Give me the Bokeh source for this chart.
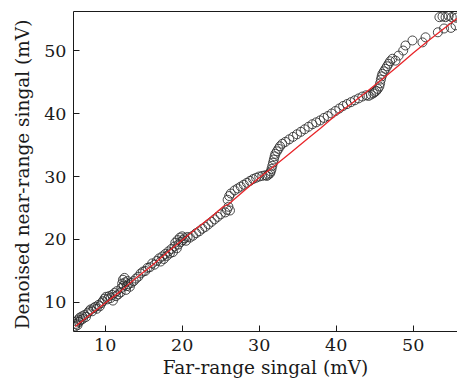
from bokeh.plotting import figure
from bokeh.models import FixedTicker, LinearAxis, Range1d
from bokeh.embed import file_html
from bokeh.resources import INLINE

# scatter: far-range signal (x) vs denoised near-range signal (y), mV
far_x = [6.1, 6.2, 6.3, 6.4, 6.5, 6.6, 6.7, 6.8, 7.0, 7.1, 7.3, 7.5, 7.7, 7.9, 8.1, 8.3, 8.5, 8.7,
         8.9, 9.1, 9.3, 9.5, 9.7, 9.9, 10.1, 10.3, 10.5, 10.7, 10.9, 11.0, 11.2, 11.4, 11.5, 11.7,
         12.0, 12.1, 12.2, 12.3, 12.4, 12.5, 12.6, 12.7, 12.8, 12.9, 13.0, 13.2, 13.4,
         13.7, 14.0, 14.3, 14.6, 14.9, 15.2, 15.5, 15.8, 16.1, 16.4, 16.7, 17.0,
         17.2, 17.4, 17.6, 17.8, 18.0, 18.2, 18.4, 18.6, 18.8, 19.0, 19.1, 19.3, 19.4, 19.5, 19.7,
         19.8, 20.0, 20.1, 20.3, 20.5, 20.7,
         21.0, 21.4, 21.8, 22.2, 22.6, 23.0, 23.4, 23.8, 24.2, 24.6, 25.0,
         25.6, 25.8, 26.0, 26.2, 25.9, 26.1, 26.3,
         26.8, 27.2, 27.6, 28.0, 28.4, 28.8, 29.2, 29.6, 30.0, 30.4, 30.8,
         31.0, 31.2, 31.4, 31.5, 31.6, 31.7, 31.8, 31.9, 32.0, 32.1, 32.3, 32.5, 32.7, 33.0,
         33.4, 33.9, 34.4, 34.9, 35.4, 35.9, 36.4, 36.9, 37.4, 37.9, 38.4, 38.9, 39.4, 39.9, 40.4,
         40.9, 41.4, 41.9, 42.4, 42.9, 43.4, 43.9,
         44.2, 44.5, 44.8, 45.0, 45.2, 45.4, 45.6, 45.7, 45.8, 45.9, 46.0, 46.2, 46.4, 46.6, 46.8,
         47.0, 47.3,
         47.7, 48.1, 48.7, 49.0, 49.9, 51.2, 51.6, 53.2, 54.0, 54.9, 55.5,
         53.4, 53.8, 54.2, 54.6, 55.0, 55.4, 55.6]
near_y = [6.2, 6.6, 7.0, 6.4, 7.3, 6.9, 7.6, 7.2, 7.8, 7.4, 8.0, 7.7, 8.3, 8.6, 8.9, 8.6, 9.1, 9.3,
          9.0, 9.6, 9.4, 9.9, 10.2, 10.6, 10.9, 10.5, 11.0, 10.7, 11.2, 10.3, 11.5, 11.0, 11.8, 11.3,
          11.6, 12.3, 13.0, 13.6, 12.7, 13.9, 13.2, 12.0, 12.6, 13.4, 12.9, 12.5, 13.1,
          13.4, 13.8, 14.1, 14.6, 14.9, 15.0, 15.5, 15.6, 16.2, 16.0, 16.6, 17.0,
          16.5, 17.3, 16.9, 17.7, 17.4, 18.1, 17.8, 18.5, 18.0, 18.9, 19.5, 18.6, 19.9, 19.2, 20.3,
          19.6, 20.5, 19.9, 20.2, 19.8, 20.4,
          20.3, 20.6, 21.0, 21.3, 21.7, 22.0, 22.4, 22.8, 23.2, 23.6, 24.0,
          24.3, 24.7, 25.2, 24.6, 26.3, 26.9, 27.3,
          27.8, 28.1, 28.4, 28.7, 29.0, 29.3, 29.6, 29.8, 30.0, 30.1, 30.2,
          30.1, 30.3, 30.5, 30.8, 31.2, 31.7, 32.2, 32.7, 33.2, 33.6, 34.0, 34.4, 34.8, 35.2,
          35.5, 35.9, 36.3, 36.7, 37.1, 37.5, 37.9, 38.3, 38.6, 38.9, 39.3, 39.6, 40.0, 40.4, 40.8,
          41.2, 41.5, 41.8, 42.1, 42.4, 42.7, 42.9,
          42.8, 43.0, 43.2, 43.4, 43.6, 43.9, 44.3, 44.8, 45.4, 45.9, 46.3, 46.7, 47.1, 47.5, 47.9,
          48.3, 48.7,
          48.4, 49.2, 50.0, 50.8, 51.6, 51.3, 52.1, 52.9, 53.5, 53.6, 54.0,
          55.3, 55.4, 55.3, 55.5, 55.3, 55.5, 55.2]

# red fitted curve
fit_x = [6.1, 8.0, 10.0, 12.0, 14.0, 16.0, 18.0, 20.0, 22.0, 24.0, 25.3, 26.0, 28.0, 30.0,
         32.0, 34.0, 36.0, 38.0, 40.0, 42.0, 44.0, 46.0, 48.0, 50.0, 52.0, 54.0, 55.8]
fit_y = [6.2, 8.0, 9.9, 11.8, 13.9, 15.8, 17.9, 19.9, 21.9, 23.8, 25.2, 25.6, 27.7, 29.8,
         31.7, 33.7, 35.7, 37.7, 39.8, 41.6, 43.5, 45.5, 47.5, 49.6, 51.6, 53.5, 55.2]

x_ticks = [10, 20, 30, 40, 50]
y_ticks = [10, 20, 30, 40, 50]

FONT = "DejaVu Serif"

p = figure(width=457, height=385, output_backend="svg", toolbar_location=None,
           x_range=Range1d(5.88, 55.75), y_range=Range1d(5.39, 56.2),
           min_border_left=73, min_border_right=0, min_border_top=11, min_border_bottom=54)
p.outline_line_color = None
p.grid.visible = False
p.background_fill_color = "white"
p.border_fill_color = "white"

p.scatter(far_x, near_y, size=9, fill_color=None, line_color="#2a2a2a", line_width=1, line_alpha=0.85)
p.line(fit_x, fit_y, line_color="#e8262a", line_width=1.3)

for ax, ticks, label in ((p.xaxis[0], x_ticks, "Far-range singal (mV)"),
                         (p.yaxis[0], y_ticks, "Denoised near-range singal  (mV)")):
    ax.ticker = FixedTicker(ticks=ticks)
    ax.axis_label = label
    ax.axis_label_text_font = FONT
    ax.axis_label_text_font_size = "18.5px"
    ax.axis_label_text_font_style = "normal"
    ax.axis_label_text_color = "#1a1a1a"
    ax.major_label_text_font = FONT
    ax.major_label_text_font_size = "17.5px"
    ax.major_label_text_color = "#1a1a1a"
    ax.major_tick_in = 6
    ax.major_tick_out = 0
    ax.minor_tick_line_color = None
    ax.axis_line_color = "#1a1a1a"
    ax.major_tick_line_color = "#1a1a1a"

p.xaxis[0].major_label_standoff = 7
p.xaxis[0].axis_label_standoff = 3
p.yaxis[0].major_label_standoff = 7
p.yaxis[0].axis_label_standoff = 8

top = LinearAxis(ticker=FixedTicker(ticks=[]), major_tick_line_color=None, minor_tick_line_color=None,
                 major_label_text_font_size="0px", axis_line_color="#1a1a1a")
p.add_layout(top, "above")

open("out.html", "w").write(file_html(p, INLINE))
